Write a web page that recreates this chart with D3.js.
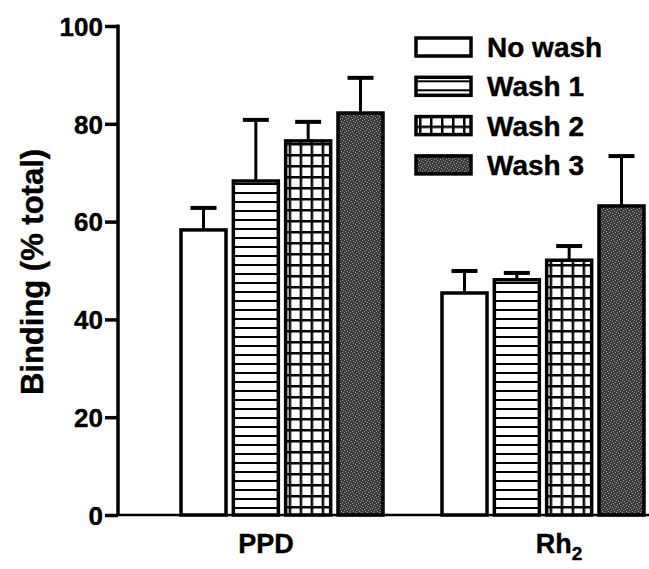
<!DOCTYPE html>
<html>
<head>
<meta charset="utf-8">
<script src="https://cdn.jsdelivr.net/npm/d3@7"></script>
<style>
  body { margin: 0; background: #fff; }
  text { font-family: Arial, "Liberation Sans", Helvetica, sans-serif; font-weight: bold; }
</style>
</head>
<body>
<div id="chart"></div>
<script>
// data
const groups = ["PPD", "Rh2"];
const series = ["No wash", "Wash 1", "Wash 2", "Wash 3"];
const means = [
    [58.3, 68.3, 76.5, 82.2],   // PPD
    [45.4, 48.1, 52.1, 63.2]    // Rh2
];
const errs = [
    [4.5, 12.5, 3.9, 7.2],
    [4.5, 1.4, 2.9, 10.2]
];
const yTicks = [0, 20, 40, 60, 80, 100];

var width = 649, height = 569;
const svg = d3.select('#chart').append("svg").attr("width", width).attr("height", height);

// fill patterns
const defs = svg.append("defs");
const p1 = defs.append("pattern").attr("id", "stripes").attr("patternUnits", "userSpaceOnUse")
    .attr("width", 10).attr("height", 9);
p1.append("rect").attr("width", 10).attr("height", 9).attr("fill", "#fff");
p1.append("rect").attr("y", 3).attr("width", 10).attr("height", 2).attr("fill", "#000");

const p2 = defs.append("pattern").attr("id", "grid").attr("patternUnits", "userSpaceOnUse")
    .attr("width", 11).attr("height", 11).attr("x", 3);
p2.append("rect").attr("width", 11).attr("height", 11).attr("fill", "#fff");
p2.append("rect").attr("width", 11).attr("height", 2.5).attr("fill", "#000");
p2.append("rect").attr("width", 2.5).attr("height", 11).attr("fill", "#000");

const p3 = defs.append("pattern").attr("id", "stipple").attr("patternUnits", "userSpaceOnUse")
    .attr("width", 6).attr("height", 6);
p3.append("rect").attr("width", 6).attr("height", 6).attr("fill", "#3a3a3a");
[[0, 0], [3, 1], [1, 3], [4, 4], [5, 2], [2, 5]].forEach(d => {
    p3.append("rect").attr("x", d[0]).attr("y", d[1]).attr("width", 1).attr("height", 1).attr("fill", "#9a9a9a");
});

const fills = ["#fff", "url(#stripes)", "url(#grid)", "url(#stipple)"];

// scales
const y = d3.scaleLinear().domain([0, 100]).range([515, 26]);
const xg = d3.scalePoint().domain(groups).range([282, 543]);
const xs = d3.scaleBand().domain(series).range([-101, 101]).paddingInner(0.14);

// y axis
const yAxis = svg.append("g")
    .attr("transform", "translate(118,0)")
    .call(d3.axisLeft(y).tickValues(yTicks).tickSize(13).tickSizeOuter(0).tickPadding(2));
yAxis.select(".domain").attr("stroke-width", 3.5).attr("d", `M0,${y(0)}V${y(100) - 1.5}`);
yAxis.selectAll(".tick line").attr("stroke-width", 3.5);
yAxis.selectAll(".tick text").attr("font-size", 26).attr("fill", "#000").attr("dy", "0.36em")
    .attr("stroke", "#000").attr("stroke-width", 0.4);

// x axis baseline
svg.append("line")
    .attr("x1", 118).attr("x2", width)
    .attr("y1", y(0)).attr("y2", y(0))
    .attr("stroke", "#000").attr("stroke-width", 2.5);

// bars
const rows = [];
groups.forEach((g, gi) => series.forEach((s, si) => {
    rows.push({ g: g, s: s, si: si, v: means[gi][si], e: errs[gi][si] });
}));

const bars = svg.append("g").selectAll("g").data(rows).enter().append("g")
    .attr("transform", d => `translate(${xg(d.g) + xs(d.s)},0)`);

bars.append("line")
    .attr("x1", xs.bandwidth() / 2).attr("x2", xs.bandwidth() / 2)
    .attr("y1", d => y(d.v)).attr("y2", d => y(d.v + d.e))
    .attr("stroke", "#000").attr("stroke-width", 3);
bars.append("line")
    .attr("x1", xs.bandwidth() / 2 - 13).attr("x2", xs.bandwidth() / 2 + 13)
    .attr("y1", d => y(d.v + d.e)).attr("y2", d => y(d.v + d.e))
    .attr("stroke", "#000").attr("stroke-width", 4);
bars.append("rect")
    .attr("y", d => y(d.v))
    .attr("width", xs.bandwidth())
    .attr("height", d => y(0) - y(d.v))
    .attr("fill", d => fills[d.si])
    .attr("stroke", "#000").attr("stroke-width", 3.5);

// group labels
const lab = svg.append("g").selectAll("text").data(groups).enter().append("text")
    .attr("x", (d, i) => xg(d) + (i === 0 ? -16 : 16))
    .attr("y", 553)
    .attr("text-anchor", "middle")
    .attr("font-size", 27)
    .attr("stroke", "#000").attr("stroke-width", 0.4);
lab.each(function (d) {
    const t = d3.select(this);
    if (d === "Rh2") {
        t.append("tspan").text("Rh");
        t.append("tspan").text("2").attr("font-size", 19).attr("dy", 7);
    } else {
        t.text(d);
    }
});

// y label
svg.append("text")
    .attr("transform", "translate(43,272) rotate(-90)")
    .attr("text-anchor", "middle")
    .attr("font-size", 31)
    .attr("stroke", "#000").attr("stroke-width", 0.4)
    .text("Binding (% total)");

// legend
const leg = svg.append("g").selectAll("g").data(series).enter().append("g")
    .attr("transform", (d, i) => `translate(416,${47 + i * 39.3})`);
leg.append("rect")
    .attr("y", -9).attr("width", 55).attr("height", 18)
    .attr("fill", (d, i) => fills[i])
    .attr("stroke", "#000").attr("stroke-width", 3.5);
leg.append("text")
    .attr("x", 71).attr("y", 10)
    .attr("font-size", 28)
    .attr("stroke", "#000").attr("stroke-width", 0.4)
    .text(d => d);
</script>
</body>
</html>
